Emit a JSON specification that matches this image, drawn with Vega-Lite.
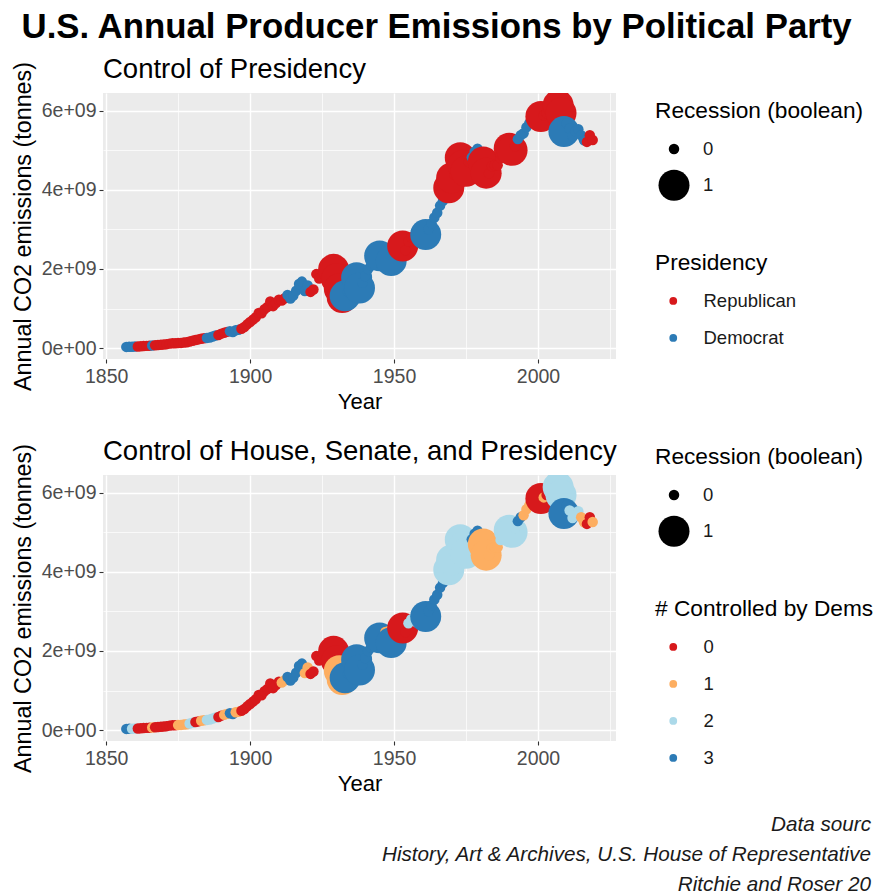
{
  "$schema": "https://vega.github.io/schema/vega-lite/v6.json",
  "padding": {"left": 11, "top": 10, "right": 0, "bottom": 0},
  "background": "white",
  "config": {
    "font": "Liberation Sans",
    "view": {"fill": "#EBEBEB", "stroke": null}
  },
  "title": {"text": "U.S. Annual Producer Emissions by Political Party", "fontSize": 34.8, "fontWeight": "bold", "font": "Liberation Sans", "anchor": "middle", "color": "#000000", "offset": 10, "dx": -6},
  "datasets": {
    "co2": [
      {"Year":1857,"CO2":3.0e7,"Presidency":"Democrat","Recession":0,"Dems":3},
      {"Year":1858,"CO2":3.2e7,"Presidency":"Democrat","Recession":0,"Dems":3},
      {"Year":1859,"CO2":3.6e7,"Presidency":"Democrat","Recession":0,"Dems":2},
      {"Year":1860,"CO2":4.0e7,"Presidency":"Democrat","Recession":0,"Dems":2},
      {"Year":1861,"CO2":4.2e7,"Presidency":"Republican","Recession":0,"Dems":0},
      {"Year":1862,"CO2":4.5e7,"Presidency":"Republican","Recession":0,"Dems":0},
      {"Year":1863,"CO2":5.0e7,"Presidency":"Republican","Recession":0,"Dems":0},
      {"Year":1864,"CO2":5.6e7,"Presidency":"Republican","Recession":0,"Dems":0},
      {"Year":1865,"CO2":5.8e7,"Presidency":"Republican","Recession":0,"Dems":0},
      {"Year":1866,"CO2":6.5e7,"Presidency":"Democrat","Recession":0,"Dems":1},
      {"Year":1867,"CO2":7.0e7,"Presidency":"Republican","Recession":0,"Dems":0},
      {"Year":1868,"CO2":7.8e7,"Presidency":"Republican","Recession":0,"Dems":0},
      {"Year":1869,"CO2":8.6e7,"Presidency":"Republican","Recession":0,"Dems":0},
      {"Year":1870,"CO2":9.2e7,"Presidency":"Republican","Recession":0,"Dems":0},
      {"Year":1871,"CO2":1.0e8,"Presidency":"Republican","Recession":0,"Dems":0},
      {"Year":1872,"CO2":1.13e8,"Presidency":"Republican","Recession":0,"Dems":0},
      {"Year":1873,"CO2":1.24e8,"Presidency":"Republican","Recession":0,"Dems":0},
      {"Year":1874,"CO2":1.2e8,"Presidency":"Republican","Recession":0,"Dems":0},
      {"Year":1875,"CO2":1.26e8,"Presidency":"Republican","Recession":0,"Dems":1},
      {"Year":1876,"CO2":1.31e8,"Presidency":"Republican","Recession":0,"Dems":1},
      {"Year":1877,"CO2":1.4e8,"Presidency":"Republican","Recession":0,"Dems":1},
      {"Year":1878,"CO2":1.46e8,"Presidency":"Republican","Recession":0,"Dems":1},
      {"Year":1879,"CO2":1.65e8,"Presidency":"Republican","Recession":0,"Dems":2},
      {"Year":1880,"CO2":1.86e8,"Presidency":"Republican","Recession":0,"Dems":2},
      {"Year":1881,"CO2":2.05e8,"Presidency":"Republican","Recession":0,"Dems":0},
      {"Year":1882,"CO2":2.2e8,"Presidency":"Republican","Recession":0,"Dems":0},
      {"Year":1883,"CO2":2.38e8,"Presidency":"Republican","Recession":0,"Dems":1},
      {"Year":1884,"CO2":2.5e8,"Presidency":"Republican","Recession":0,"Dems":1},
      {"Year":1885,"CO2":2.58e8,"Presidency":"Democrat","Recession":0,"Dems":2},
      {"Year":1886,"CO2":2.68e8,"Presidency":"Democrat","Recession":0,"Dems":2},
      {"Year":1887,"CO2":2.92e8,"Presidency":"Democrat","Recession":0,"Dems":2},
      {"Year":1888,"CO2":3.18e8,"Presidency":"Democrat","Recession":0,"Dems":2},
      {"Year":1889,"CO2":3.3e8,"Presidency":"Republican","Recession":0,"Dems":0},
      {"Year":1890,"CO2":3.65e8,"Presidency":"Republican","Recession":0,"Dems":0},
      {"Year":1891,"CO2":3.85e8,"Presidency":"Republican","Recession":0,"Dems":1},
      {"Year":1892,"CO2":4.1e8,"Presidency":"Republican","Recession":0,"Dems":1},
      {"Year":1893,"CO2":4.25e8,"Presidency":"Democrat","Recession":0,"Dems":3},
      {"Year":1894,"CO2":4.05e8,"Presidency":"Democrat","Recession":0,"Dems":3},
      {"Year":1895,"CO2":4.5e8,"Presidency":"Democrat","Recession":0,"Dems":1},
      {"Year":1896,"CO2":4.65e8,"Presidency":"Democrat","Recession":0,"Dems":1},
      {"Year":1897,"CO2":4.9e8,"Presidency":"Republican","Recession":0,"Dems":0},
      {"Year":1898,"CO2":5.35e8,"Presidency":"Republican","Recession":0,"Dems":0},
      {"Year":1899,"CO2":6.0e8,"Presidency":"Republican","Recession":0,"Dems":0},
      {"Year":1900,"CO2":6.6e8,"Presidency":"Republican","Recession":0,"Dems":0},
      {"Year":1901,"CO2":7.2e8,"Presidency":"Republican","Recession":0,"Dems":0},
      {"Year":1902,"CO2":7.8e8,"Presidency":"Republican","Recession":0,"Dems":0},
      {"Year":1903,"CO2":8.9e8,"Presidency":"Republican","Recession":0,"Dems":0},
      {"Year":1904,"CO2":8.8e8,"Presidency":"Republican","Recession":0,"Dems":0},
      {"Year":1905,"CO2":9.8e8,"Presidency":"Republican","Recession":0,"Dems":0},
      {"Year":1906,"CO2":1.04e9,"Presidency":"Republican","Recession":0,"Dems":0},
      {"Year":1907,"CO2":1.18e9,"Presidency":"Republican","Recession":0,"Dems":0},
      {"Year":1908,"CO2":1.06e9,"Presidency":"Republican","Recession":0,"Dems":0},
      {"Year":1909,"CO2":1.14e9,"Presidency":"Republican","Recession":0,"Dems":0},
      {"Year":1910,"CO2":1.22e9,"Presidency":"Republican","Recession":0,"Dems":0},
      {"Year":1911,"CO2":1.2e9,"Presidency":"Republican","Recession":0,"Dems":1},
      {"Year":1912,"CO2":1.26e9,"Presidency":"Republican","Recession":0,"Dems":1},
      {"Year":1913,"CO2":1.34e9,"Presidency":"Democrat","Recession":0,"Dems":3},
      {"Year":1914,"CO2":1.25e9,"Presidency":"Democrat","Recession":0,"Dems":3},
      {"Year":1915,"CO2":1.33e9,"Presidency":"Democrat","Recession":0,"Dems":3},
      {"Year":1916,"CO2":1.45e9,"Presidency":"Democrat","Recession":0,"Dems":3},
      {"Year":1917,"CO2":1.62e9,"Presidency":"Democrat","Recession":0,"Dems":3},
      {"Year":1918,"CO2":1.68e9,"Presidency":"Democrat","Recession":0,"Dems":3},
      {"Year":1919,"CO2":1.44e9,"Presidency":"Democrat","Recession":0,"Dems":1},
      {"Year":1920,"CO2":1.58e9,"Presidency":"Democrat","Recession":0,"Dems":1},
      {"Year":1921,"CO2":1.42e9,"Presidency":"Republican","Recession":0,"Dems":0},
      {"Year":1922,"CO2":1.48e9,"Presidency":"Republican","Recession":0,"Dems":0},
      {"Year":1923,"CO2":1.87e9,"Presidency":"Republican","Recession":0,"Dems":0},
      {"Year":1924,"CO2":1.76e9,"Presidency":"Republican","Recession":0,"Dems":0},
      {"Year":1925,"CO2":1.8e9,"Presidency":"Republican","Recession":0,"Dems":0},
      {"Year":1926,"CO2":1.9e9,"Presidency":"Republican","Recession":0,"Dems":0},
      {"Year":1927,"CO2":1.86e9,"Presidency":"Republican","Recession":0,"Dems":0},
      {"Year":1928,"CO2":1.88e9,"Presidency":"Republican","Recession":0,"Dems":0},
      {"Year":1929,"CO2":1.99e9,"Presidency":"Republican","Recession":1,"Dems":0},
      {"Year":1930,"CO2":1.75e9,"Presidency":"Republican","Recession":1,"Dems":0},
      {"Year":1931,"CO2":1.5e9,"Presidency":"Republican","Recession":1,"Dems":1},
      {"Year":1932,"CO2":1.28e9,"Presidency":"Republican","Recession":1,"Dems":1},
      {"Year":1933,"CO2":1.32e9,"Presidency":"Democrat","Recession":1,"Dems":3},
      {"Year":1934,"CO2":1.42e9,"Presidency":"Democrat","Recession":0,"Dems":3},
      {"Year":1935,"CO2":1.5e9,"Presidency":"Democrat","Recession":0,"Dems":3},
      {"Year":1936,"CO2":1.68e9,"Presidency":"Democrat","Recession":0,"Dems":3},
      {"Year":1937,"CO2":1.78e9,"Presidency":"Democrat","Recession":1,"Dems":3},
      {"Year":1938,"CO2":1.52e9,"Presidency":"Democrat","Recession":1,"Dems":3},
      {"Year":1939,"CO2":1.65e9,"Presidency":"Democrat","Recession":0,"Dems":3},
      {"Year":1940,"CO2":1.82e9,"Presidency":"Democrat","Recession":0,"Dems":3},
      {"Year":1941,"CO2":2.0e9,"Presidency":"Democrat","Recession":0,"Dems":3},
      {"Year":1942,"CO2":2.08e9,"Presidency":"Democrat","Recession":0,"Dems":3},
      {"Year":1943,"CO2":2.25e9,"Presidency":"Democrat","Recession":0,"Dems":3},
      {"Year":1944,"CO2":2.35e9,"Presidency":"Democrat","Recession":0,"Dems":3},
      {"Year":1945,"CO2":2.33e9,"Presidency":"Democrat","Recession":1,"Dems":3},
      {"Year":1946,"CO2":2.28e9,"Presidency":"Democrat","Recession":0,"Dems":3},
      {"Year":1947,"CO2":2.48e9,"Presidency":"Democrat","Recession":0,"Dems":1},
      {"Year":1948,"CO2":2.5e9,"Presidency":"Democrat","Recession":0,"Dems":1},
      {"Year":1949,"CO2":2.21e9,"Presidency":"Democrat","Recession":1,"Dems":3},
      {"Year":1950,"CO2":2.4e9,"Presidency":"Democrat","Recession":0,"Dems":3},
      {"Year":1951,"CO2":2.55e9,"Presidency":"Democrat","Recession":0,"Dems":3},
      {"Year":1952,"CO2":2.5e9,"Presidency":"Democrat","Recession":0,"Dems":3},
      {"Year":1953,"CO2":2.58e9,"Presidency":"Republican","Recession":1,"Dems":0},
      {"Year":1954,"CO2":2.48e9,"Presidency":"Republican","Recession":0,"Dems":0},
      {"Year":1955,"CO2":2.7e9,"Presidency":"Republican","Recession":0,"Dems":2},
      {"Year":1956,"CO2":2.8e9,"Presidency":"Republican","Recession":0,"Dems":2},
      {"Year":1957,"CO2":2.78e9,"Presidency":"Republican","Recession":0,"Dems":2},
      {"Year":1958,"CO2":2.72e9,"Presidency":"Republican","Recession":0,"Dems":2},
      {"Year":1959,"CO2":2.82e9,"Presidency":"Republican","Recession":0,"Dems":2},
      {"Year":1960,"CO2":2.9e9,"Presidency":"Republican","Recession":0,"Dems":2},
      {"Year":1961,"CO2":2.87e9,"Presidency":"Democrat","Recession":1,"Dems":3},
      {"Year":1962,"CO2":3.0e9,"Presidency":"Democrat","Recession":0,"Dems":3},
      {"Year":1963,"CO2":3.15e9,"Presidency":"Democrat","Recession":0,"Dems":3},
      {"Year":1964,"CO2":3.3e9,"Presidency":"Democrat","Recession":0,"Dems":3},
      {"Year":1965,"CO2":3.42e9,"Presidency":"Democrat","Recession":0,"Dems":3},
      {"Year":1966,"CO2":3.6e9,"Presidency":"Democrat","Recession":0,"Dems":3},
      {"Year":1967,"CO2":3.72e9,"Presidency":"Democrat","Recession":0,"Dems":3},
      {"Year":1968,"CO2":3.9e9,"Presidency":"Democrat","Recession":0,"Dems":3},
      {"Year":1969,"CO2":4.05e9,"Presidency":"Republican","Recession":1,"Dems":2},
      {"Year":1970,"CO2":4.3e9,"Presidency":"Republican","Recession":1,"Dems":2},
      {"Year":1971,"CO2":4.38e9,"Presidency":"Republican","Recession":0,"Dems":2},
      {"Year":1972,"CO2":4.62e9,"Presidency":"Republican","Recession":0,"Dems":2},
      {"Year":1973,"CO2":4.81e9,"Presidency":"Republican","Recession":1,"Dems":2},
      {"Year":1974,"CO2":4.62e9,"Presidency":"Republican","Recession":1,"Dems":2},
      {"Year":1975,"CO2":4.47e9,"Presidency":"Republican","Recession":1,"Dems":2},
      {"Year":1976,"CO2":4.7e9,"Presidency":"Republican","Recession":0,"Dems":2},
      {"Year":1977,"CO2":4.82e9,"Presidency":"Democrat","Recession":0,"Dems":3},
      {"Year":1978,"CO2":4.96e9,"Presidency":"Democrat","Recession":0,"Dems":3},
      {"Year":1979,"CO2":5.04e9,"Presidency":"Democrat","Recession":0,"Dems":3},
      {"Year":1980,"CO2":4.78e9,"Presidency":"Democrat","Recession":0,"Dems":3},
      {"Year":1981,"CO2":4.7e9,"Presidency":"Republican","Recession":1,"Dems":1},
      {"Year":1982,"CO2":4.42e9,"Presidency":"Republican","Recession":1,"Dems":1},
      {"Year":1983,"CO2":4.42e9,"Presidency":"Republican","Recession":0,"Dems":1},
      {"Year":1984,"CO2":4.6e9,"Presidency":"Republican","Recession":0,"Dems":1},
      {"Year":1985,"CO2":4.62e9,"Presidency":"Republican","Recession":0,"Dems":1},
      {"Year":1986,"CO2":4.62e9,"Presidency":"Republican","Recession":0,"Dems":1},
      {"Year":1987,"CO2":4.8e9,"Presidency":"Republican","Recession":0,"Dems":2},
      {"Year":1988,"CO2":5.0e9,"Presidency":"Republican","Recession":0,"Dems":2},
      {"Year":1989,"CO2":5.06e9,"Presidency":"Republican","Recession":0,"Dems":2},
      {"Year":1990,"CO2":5.05e9,"Presidency":"Republican","Recession":1,"Dems":2},
      {"Year":1991,"CO2":5.0e9,"Presidency":"Republican","Recession":1,"Dems":2},
      {"Year":1992,"CO2":5.1e9,"Presidency":"Republican","Recession":0,"Dems":2},
      {"Year":1993,"CO2":5.28e9,"Presidency":"Democrat","Recession":0,"Dems":3},
      {"Year":1994,"CO2":5.38e9,"Presidency":"Democrat","Recession":0,"Dems":3},
      {"Year":1995,"CO2":5.43e9,"Presidency":"Democrat","Recession":0,"Dems":1},
      {"Year":1996,"CO2":5.58e9,"Presidency":"Democrat","Recession":0,"Dems":1},
      {"Year":1997,"CO2":5.68e9,"Presidency":"Democrat","Recession":0,"Dems":1},
      {"Year":1998,"CO2":5.72e9,"Presidency":"Democrat","Recession":0,"Dems":1},
      {"Year":1999,"CO2":5.8e9,"Presidency":"Democrat","Recession":0,"Dems":1},
      {"Year":2000,"CO2":5.9e9,"Presidency":"Democrat","Recession":0,"Dems":1},
      {"Year":2001,"CO2":5.85e9,"Presidency":"Republican","Recession":1,"Dems":0},
      {"Year":2002,"CO2":5.88e9,"Presidency":"Republican","Recession":0,"Dems":1},
      {"Year":2003,"CO2":5.94e9,"Presidency":"Republican","Recession":0,"Dems":0},
      {"Year":2004,"CO2":6.05e9,"Presidency":"Republican","Recession":0,"Dems":0},
      {"Year":2005,"CO2":6.1e9,"Presidency":"Republican","Recession":0,"Dems":0},
      {"Year":2006,"CO2":6.02e9,"Presidency":"Republican","Recession":0,"Dems":0},
      {"Year":2007,"CO2":6.14e9,"Presidency":"Republican","Recession":1,"Dems":2},
      {"Year":2008,"CO2":5.94e9,"Presidency":"Republican","Recession":1,"Dems":2},
      {"Year":2009,"CO2":5.47e9,"Presidency":"Democrat","Recession":1,"Dems":3},
      {"Year":2010,"CO2":5.68e9,"Presidency":"Democrat","Recession":0,"Dems":3},
      {"Year":2011,"CO2":5.55e9,"Presidency":"Democrat","Recession":0,"Dems":2},
      {"Year":2012,"CO2":5.36e9,"Presidency":"Democrat","Recession":0,"Dems":2},
      {"Year":2013,"CO2":5.48e9,"Presidency":"Democrat","Recession":0,"Dems":2},
      {"Year":2014,"CO2":5.53e9,"Presidency":"Democrat","Recession":0,"Dems":2},
      {"Year":2015,"CO2":5.38e9,"Presidency":"Democrat","Recession":0,"Dems":1},
      {"Year":2016,"CO2":5.25e9,"Presidency":"Democrat","Recession":0,"Dems":1},
      {"Year":2017,"CO2":5.21e9,"Presidency":"Republican","Recession":0,"Dems":0},
      {"Year":2018,"CO2":5.38e9,"Presidency":"Republican","Recession":0,"Dems":0},
      {"Year":2019,"CO2":5.26e9,"Presidency":"Republican","Recession":0,"Dems":1}
    ]
  },
  "vconcat": [
    {
      "title": {"text": ["Data sourc", "History, Art & Archives, U.S. House of Representative", "Ritchie and Roser 20"], "orient": "bottom", "anchor": "end", "fontStyle": "italic", "fontSize": 20.7, "fontWeight": "normal", "lineHeight": 30, "color": "#1A1A1A", "offset": 20, "dx": -3, "limit": 900},
      "spacing": 25,
      "resolve": {"scale": {"color": "independent", "size": "independent"}, "legend": {"color": "independent", "size": "independent"}},
      "vconcat": [
        {
          "width": 513,
          "height": 266,
          "title": {"text": "Control of Presidency", "anchor": "start", "frame": "group", "fontSize": 27.5, "fontWeight": "normal", "color": "#000000", "offset": -22},
          "data": {"name": "co2"},
          "mark": {"type": "point", "shape": "circle", "filled": true, "opacity": 1, "strokeWidth": 0, "clip": true},
          "encoding": {
            "x": {"field": "Year", "type": "quantitative",
              "scale": {"domain": [1848.9, 2027.1], "nice": false, "zero": false},
              "axis": {"title": "Year", "values": [1850, 1875, 1900, 1925, 1950, 1975, 2000, 2025],
                "labelExpr": "datum.value % 50 === 0 ? format(datum.value, 'd') : ''",
                "gridColor": "#FFFFFF", "gridWidth": {"condition": {"test": "datum.value % 50 === 0", "value": 1.4}, "value": 0.7},
                "tickOpacity": {"condition": {"test": "datum.value % 50 === 0", "value": 1}, "value": 0},
                "domain": false, "tickColor": "#333333", "tickSize": 4, "tickWidth": 1.1,
                "labelColor": "#4D4D4D", "labelFontSize": 19.5, "labelPadding": 4, "labelOverlap": false, "labelFlush": false,
                "titleFontSize": 22, "titleFontWeight": "normal", "titleColor": "#000000", "titlePadding": 6}},
            "y": {"field": "CO2", "type": "quantitative",
              "scale": {"domain": [-2.755e8, 6.4455e9], "nice": false, "zero": false},
              "axis": {"title": "Annual CO2 emissions (tonnes)", "values": [0, 1e9, 2e9, 3e9, 4e9, 5e9, 6e9],
                "labelExpr": "datum.value % 2e9 === 0 ? (datum.value === 0 ? '0e+00' : (datum.value / 1e9) + 'e+09') : ''",
                "gridColor": "#FFFFFF", "gridWidth": {"condition": {"test": "datum.value % 2e9 === 0", "value": 1.4}, "value": 0.7},
                "tickOpacity": {"condition": {"test": "datum.value % 2e9 === 0", "value": 1}, "value": 0},
                "domain": false, "tickColor": "#333333", "tickSize": 4, "tickWidth": 1.1,
                "labelColor": "#4D4D4D", "labelFontSize": 19.5, "labelPadding": 3, "labelOverlap": false,
                "titleFontSize": 23.3, "titleFontWeight": "normal", "titleColor": "#000000", "titlePadding": 6, "titleLimit": 400}},
            "color": {"field": "Presidency", "type": "nominal",
              "scale": {"domain": ["Republican", "Democrat"], "range": ["#D7191C", "#2C7BB6"]},
              "legend": {"title": "Presidency", "orient": "none", "legendX": 552, "legendY": 159,
                "titleFontSize": 22.7, "titleFontWeight": "normal", "titleColor": "#000000", "titlePadding": 17, "titleLimit": 400,
                "labelFontSize": 18.5, "labelColor": "#1A1A1A", "labelOffset": 21, "labelLimit": 300, "symbolOffset": 9,
                "symbolType": "circle", "symbolSize": 60, "symbolStrokeWidth": 0, "symbolOpacity": 1, "rowPadding": 18, "padding": 0}},
            "size": {"field": "Recession", "type": "quantitative",
              "scale": {"domain": [0, 1], "range": [110, 960]},
              "legend": {"title": "Recession (boolean)", "values": [0, 1], "format": "d", "orient": "none", "legendX": 552, "legendY": 7,
                "titleFontSize": 22.7, "titleFontWeight": "normal", "titleColor": "#000000", "titlePadding": 17, "titleLimit": 400,
                "labelFontSize": 18.5, "labelColor": "#1A1A1A", "labelOffset": 13.5, "labelLimit": 300, "symbolOffset": 3.5,
                "symbolType": "circle", "symbolFillColor": "#000000", "symbolStrokeWidth": 0, "symbolOpacity": 1, "rowPadding": 11, "padding": 0,
                "encode": {"symbols": {"update": {"fill": {"value": "#000000"}, "opacity": {"value": 1}}}}}}
          }
        },
        {
          "width": 513,
          "height": 266,
          "title": {"text": "Control of House, Senate, and Presidency", "anchor": "start", "frame": "group", "fontSize": 27.5, "fontWeight": "normal", "color": "#000000", "offset": -22, "limit": 700},
          "data": {"name": "co2"},
          "mark": {"type": "point", "shape": "circle", "filled": true, "opacity": 1, "strokeWidth": 0, "clip": true},
          "encoding": {
            "x": {"field": "Year", "type": "quantitative",
              "scale": {"domain": [1848.9, 2027.1], "nice": false, "zero": false},
              "axis": {"title": "Year", "values": [1850, 1875, 1900, 1925, 1950, 1975, 2000, 2025],
                "labelExpr": "datum.value % 50 === 0 ? format(datum.value, 'd') : ''",
                "gridColor": "#FFFFFF", "gridWidth": {"condition": {"test": "datum.value % 50 === 0", "value": 1.4}, "value": 0.7},
                "tickOpacity": {"condition": {"test": "datum.value % 50 === 0", "value": 1}, "value": 0},
                "domain": false, "tickColor": "#333333", "tickSize": 4, "tickWidth": 1.1,
                "labelColor": "#4D4D4D", "labelFontSize": 19.5, "labelPadding": 4, "labelOverlap": false, "labelFlush": false,
                "titleFontSize": 22, "titleFontWeight": "normal", "titleColor": "#000000", "titlePadding": 6}},
            "y": {"field": "CO2", "type": "quantitative",
              "scale": {"domain": [-2.755e8, 6.4455e9], "nice": false, "zero": false},
              "axis": {"title": "Annual CO2 emissions (tonnes)", "values": [0, 1e9, 2e9, 3e9, 4e9, 5e9, 6e9],
                "labelExpr": "datum.value % 2e9 === 0 ? (datum.value === 0 ? '0e+00' : (datum.value / 1e9) + 'e+09') : ''",
                "gridColor": "#FFFFFF", "gridWidth": {"condition": {"test": "datum.value % 2e9 === 0", "value": 1.4}, "value": 0.7},
                "tickOpacity": {"condition": {"test": "datum.value % 2e9 === 0", "value": 1}, "value": 0},
                "domain": false, "tickColor": "#333333", "tickSize": 4, "tickWidth": 1.1,
                "labelColor": "#4D4D4D", "labelFontSize": 19.5, "labelPadding": 3, "labelOverlap": false,
                "titleFontSize": 23.3, "titleFontWeight": "normal", "titleColor": "#000000", "titlePadding": 6, "titleLimit": 400}},
            "color": {"field": "Dems", "type": "nominal",
              "scale": {"domain": [0, 1, 2, 3], "range": ["#D7191C", "#FDAE61", "#ABD9E9", "#2C7BB6"]},
              "legend": {"title": "# Controlled by Dems", "orient": "none", "legendX": 552, "legendY": 123,
                "titleFontSize": 22.7, "titleFontWeight": "normal", "titleColor": "#000000", "titlePadding": 17, "titleLimit": 400,
                "labelFontSize": 18.5, "labelColor": "#1A1A1A", "labelOffset": 21, "labelLimit": 300, "symbolOffset": 9,
                "symbolType": "circle", "symbolSize": 60, "symbolStrokeWidth": 0, "symbolOpacity": 1, "rowPadding": 18, "padding": 0}},
            "size": {"field": "Recession", "type": "quantitative",
              "scale": {"domain": [0, 1], "range": [110, 960]},
              "legend": {"title": "Recession (boolean)", "values": [0, 1], "format": "d", "orient": "none", "legendX": 552, "legendY": -29,
                "titleFontSize": 22.7, "titleFontWeight": "normal", "titleColor": "#000000", "titlePadding": 17, "titleLimit": 400,
                "labelFontSize": 18.5, "labelColor": "#1A1A1A", "labelOffset": 13.5, "labelLimit": 300, "symbolOffset": 3.5,
                "symbolType": "circle", "symbolFillColor": "#000000", "symbolStrokeWidth": 0, "symbolOpacity": 1, "rowPadding": 11, "padding": 0,
                "encode": {"symbols": {"update": {"fill": {"value": "#000000"}, "opacity": {"value": 1}}}}}}
          }
        }
      ]
    }
  ]
}
